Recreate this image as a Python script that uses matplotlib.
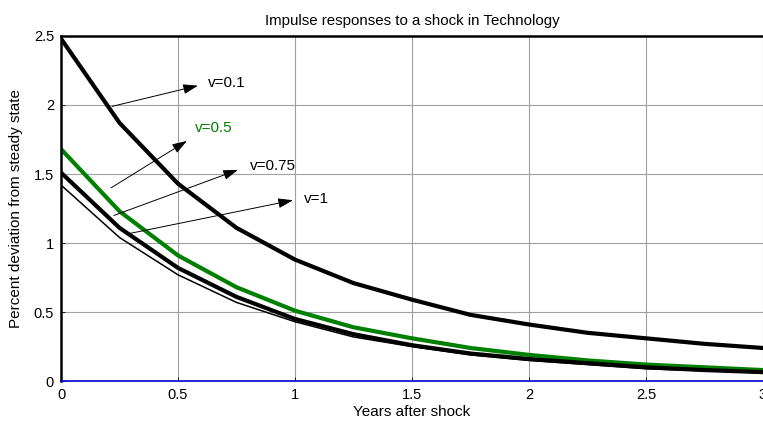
import matplotlib
matplotlib.use('Agg')
import matplotlib.pyplot as plt
import numpy as np

# quarterly horizon, in years
years = np.arange(0, 3.01, 0.25)

# impulse responses
v01 = [2.48, 1.87, 1.43, 1.11, 0.88, 0.71, 0.59, 0.48, 0.41, 0.35, 0.31, 0.27, 0.24]
v05 = [1.68, 1.23, 0.91, 0.68, 0.51, 0.39, 0.31, 0.24, 0.19, 0.15, 0.12, 0.10, 0.08]
v075 = [1.51, 1.11, 0.82, 0.61, 0.45, 0.34, 0.26, 0.20, 0.16, 0.13, 0.10, 0.08, 0.065]
v1 = [1.42, 1.04, 0.77, 0.57, 0.43, 0.32, 0.25, 0.19, 0.15, 0.12, 0.09, 0.075, 0.06]

xticks = [0, 0.5, 1, 1.5, 2, 2.5, 3]
yticks = [0, 0.5, 1, 1.5, 2, 2.5]

plt.rcParams['font.family'] = ['Liberation Sans', 'DejaVu Sans']

fig = plt.figure(figsize=(7.63, 4.23), dpi=100)
ax = fig.add_axes([0.08, 0.099, 0.92, 0.816])

ax.plot(years, v01, color='black', lw=3.0)
ax.plot(years, v05, color='#008000', lw=3.0)
ax.plot(years, v075, color='black', lw=3.0)
ax.plot(years, v1, color='black', lw=1.1)
ax.axhline(0, color='#0000cc', lw=1.2, clip_on=False, zorder=5)

ax.set_xlim(0, 3)
ax.set_ylim(0, 2.5)
ax.set_xticks(xticks)
ax.set_yticks(yticks)
ax.set_xticklabels(['0', '0.5', '1', '1.5', '2', '2.5', '3'])
ax.set_yticklabels(['0', '0.5', '1', '1.5', '2', '2.5'])
ax.tick_params(direction='in', length=3, labelsize=10.5, width=0.6, pad=5)
ax.grid(True, color='#a0a0a0', lw=0.8)
ax.set_axisbelow(True)

for s in ['left', 'top']:
    ax.spines[s].set_linewidth(1.8)
ax.spines['bottom'].set_visible(False)
ax.spines['right'].set_visible(False)

ax.set_title('Impulse responses to a shock in Technology', fontsize=10.8, pad=8)
ax.set_xlabel('Years after shock', fontsize=11, labelpad=2)
ax.set_ylabel('Percent deviation from steady state', fontsize=11, labelpad=8)

arrow = dict(arrowstyle='-|>,head_length=0.9,head_width=0.3', color='black', lw=0.7,
             shrinkA=0, shrinkB=0)
ax.annotate('', xy=(0.585, 2.14), xytext=(0.218, 1.99), arrowprops=arrow)
ax.annotate('', xy=(0.538, 1.74), xytext=(0.214, 1.40), arrowprops=arrow)
ax.annotate('', xy=(0.756, 1.53), xytext=(0.226, 1.20), arrowprops=arrow)
ax.annotate('', xy=(0.991, 1.31), xytext=(0.295, 1.07), arrowprops=arrow)

ax.text(0.63, 2.16, 'v=0.1', fontsize=11, va='center')
ax.text(0.573, 1.83, 'v=0.5', fontsize=11, va='center', color='#008000')
ax.text(0.808, 1.56, 'v=0.75', fontsize=11, va='center')
ax.text(1.04, 1.32, 'v=1', fontsize=11, va='center')

fig.savefig('out.png', dpi=100)
